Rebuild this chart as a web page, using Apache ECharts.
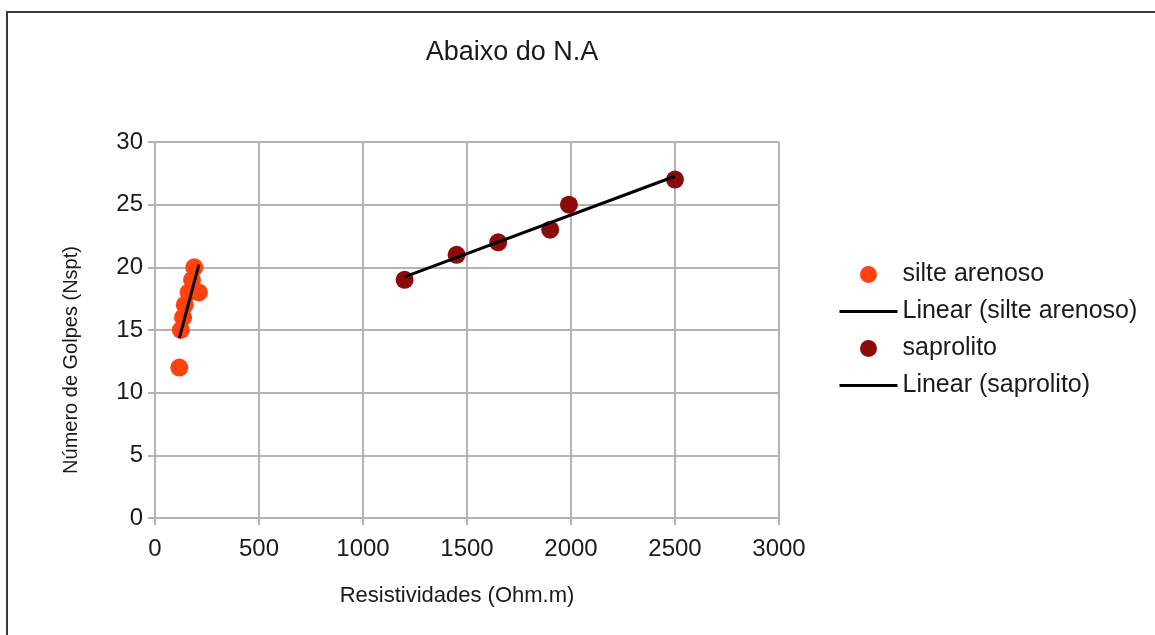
<!DOCTYPE html>
<html>
<head>
<meta charset="utf-8">
<script src="https://cdn.jsdelivr.net/npm/echarts@6/dist/echarts.min.js"></script>
<style>
  html, body { margin: 0; padding: 0; background: #fff; }
  #chart { width: 1155px; height: 635px; }
</style>
</head>
<body>
<div id="chart"></div>
<script>
// dados
var silteX = [117, 124, 135, 143, 162, 178, 189, 211];
var silteY = [12, 15, 16, 17, 18, 19, 20, 18];
var saproX = [1200, 1450, 1650, 1900, 1990, 2500];
var saproY = [19, 21, 22, 23, 25, 27];
var xTicks = [0, 500, 1000, 1500, 2000, 2500, 3000];
var yTicks = [0, 5, 10, 15, 20, 25, 30];

function pares(xs, ys) {
  return xs.map(function (x, i) { return [x, ys[i]]; });
}

// regressão linear simples, desenhada do menor ao maior x
function linear(xs, ys) {
  var n = xs.length, mx = 0, my = 0;
  for (var i = 0; i < n; i++) { mx += xs[i]; my += ys[i]; }
  mx /= n; my /= n;
  var sxy = 0, sxx = 0;
  for (var j = 0; j < n; j++) {
    sxy += (xs[j] - mx) * (ys[j] - my);
    sxx += (xs[j] - mx) * (xs[j] - mx);
  }
  var b = sxy / sxx, a = my - b * mx;
  var x0 = Math.min.apply(null, xs), x1 = Math.max.apply(null, xs);
  return [[x0, a + b * x0], [x1, a + b * x1]];
}

var chart = echarts.init(document.getElementById('chart'));
var txt = '#1a1a1a';
var grade = '#b3b3b3';

var option = {
  animation: false,
  textStyle: { fontFamily: 'Liberation Sans, Arial, sans-serif' },
  title: {
    text: 'Abaixo do N.A',
    left: 507,
    top: 34,
    textAlign: 'center',
    textStyle: { fontSize: 27, fontWeight: 'normal', color: txt }
  },
  graphic: [{
    type: 'rect',
    shape: { x: 7, y: 12, width: 1170, height: 650 },
    style: { fill: 'none', stroke: '#3a3a3a', lineWidth: 2 },
    silent: true
  }],
  legend: {
    orient: 'vertical',
    left: 833,
    top: 257,
    itemWidth: 58,
    itemHeight: 17,
    itemGap: 12,
    textStyle: { fontSize: 25, color: txt },
    data: [
      { name: 'silte arenoso', icon: 'circle' },
      { name: 'Linear (silte arenoso)', itemStyle: { opacity: 0 }, lineStyle: { width: 3 } },
      { name: 'saprolito', icon: 'circle' },
      { name: 'Linear (saprolito)', itemStyle: { opacity: 0 }, lineStyle: { width: 3 } }
    ]
  },
  grid: { left: 155, right: 376, top: 142, bottom: 117 },
  xAxis: {
    type: 'value',
    min: xTicks[0],
    max: xTicks[xTicks.length - 1],
    interval: 500,
    name: 'Resistividades (Ohm.m)',
    nameLocation: 'middle',
    nameGap: 67,
    nameTextStyle: { fontSize: 22, color: txt, padding: [0, 20, 0, 0] },
    axisLine: { show: true, lineStyle: { color: grade, width: 2 } },
    axisTick: { show: true, length: 7, lineStyle: { color: grade, width: 2 } },
    axisLabel: { fontSize: 24, color: txt, margin: 19, formatter: function (v) { return String(v); } },
    splitLine: { show: true, lineStyle: { color: grade, width: 2 } }
  },
  yAxis: {
    type: 'value',
    min: yTicks[0],
    max: yTicks[yTicks.length - 1],
    interval: 5,
    name: 'Número de Golpes (Nspt)',
    nameLocation: 'middle',
    nameGap: 74,
    nameTextStyle: { fontSize: 20, color: txt, padding: [0, 60, 0, 0] },
    axisLine: { show: true, lineStyle: { color: grade, width: 2 } },
    axisTick: { show: true, length: 7, lineStyle: { color: grade, width: 2 } },
    axisLabel: { fontSize: 24, color: txt, margin: 12 },
    splitLine: { show: true, lineStyle: { color: grade, width: 2 } }
  },
  series: [
    {
      name: 'silte arenoso',
      type: 'scatter',
      symbolSize: 18,
      itemStyle: { color: '#ff420e', opacity: 1 },
      data: pares(silteX, silteY),
      z: 2
    },
    {
      name: 'Linear (silte arenoso)',
      type: 'line',
      symbol: 'none',
      lineStyle: { color: '#000', width: 3 },
      itemStyle: { color: '#000' },
      data: linear(silteX, silteY),
      z: 3
    },
    {
      name: 'saprolito',
      type: 'scatter',
      symbolSize: 18,
      itemStyle: { color: '#8b0a0a', opacity: 1 },
      data: pares(saproX, saproY),
      z: 2
    },
    {
      name: 'Linear (saprolito)',
      type: 'line',
      symbol: 'none',
      lineStyle: { color: '#000', width: 3 },
      itemStyle: { color: '#000' },
      data: linear(saproX, saproY),
      z: 3
    }
  ]
};
chart.setOption(option);

window.addEventListener('resize', function () {
  chart.resize();
});
</script>
</body>
</html>
